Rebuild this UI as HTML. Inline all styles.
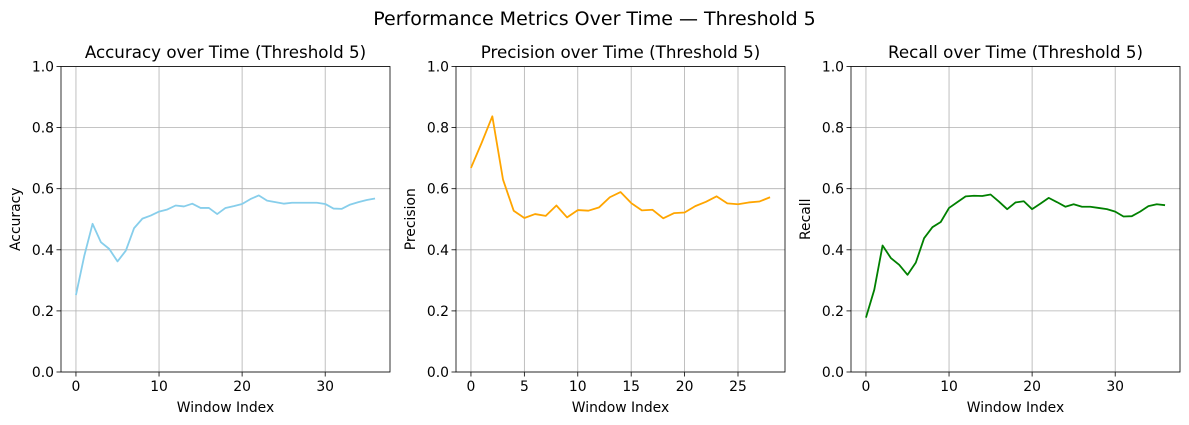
<!DOCTYPE html>
<html><head><meta charset="utf-8"><style>
body{margin:0;background:#fff;}
svg{display:block;font-family:"DejaVu Sans","Liberation Sans",sans-serif;}
</style></head><body>
<svg id="fig" width="1189" height="425">
<text x="594.5" y="25" text-anchor="middle" font-size="19">Performance Metrics Over Time — Threshold 5</text>
</svg>
<script>
const accuracy=[0.252,0.38,0.485,0.425,0.403,0.362,0.397,0.471,0.502,0.512,0.525,0.532,0.545,0.542,0.551,0.537,0.537,0.517,0.537,0.543,0.55,0.566,0.578,0.561,0.556,0.551,0.554,0.554,0.554,0.554,0.55,0.535,0.534,0.548,0.556,0.563,0.568];
const precision=[0.668,0.75,0.837,0.63,0.528,0.504,0.517,0.511,0.545,0.506,0.530,0.528,0.539,0.572,0.589,0.553,0.529,0.531,0.503,0.520,0.522,0.543,0.557,0.575,0.552,0.549,0.555,0.558,0.572];
const recall=[0.178,0.269,0.414,0.373,0.351,0.318,0.358,0.438,0.474,0.491,0.537,0.556,0.575,0.577,0.576,0.581,0.558,0.533,0.555,0.559,0.533,0.551,0.570,0.556,0.541,0.549,0.541,0.541,0.537,0.533,0.525,0.509,0.510,0.525,0.543,0.549,0.546];
const yTicks=[0,0.2,0.4,0.6,0.8,1.0];
const yTickLabels=["0.0","0.2","0.4","0.6","0.8","1.0"];
const xTicksA=[0,10,20,30];
const xTicksP=[0,5,10,15,20,25];
const xTicksR=[0,10,20,30];
const titles=["Accuracy over Time (Threshold 5)","Precision over Time (Threshold 5)","Recall over Time (Threshold 5)"];
const ylabels=["Accuracy","Precision","Recall"];

const NS="http://www.w3.org/2000/svg";
const svg=document.getElementById('fig');
function mk(tag,attrs,parent){const e=document.createElementNS(NS,tag);for(const k in attrs)e.setAttribute(k,attrs[k]);(parent||svg).appendChild(e);return e;}
const panels=[
 {left:61,data:accuracy,ticks:xTicksA,color:"#87ceeb",key:"accuracy"},
 {left:456,data:precision,ticks:xTicksP,color:"#ffa500",key:"precision"},
 {left:851,data:recall,ticks:xTicksR,color:"#008000",key:"recall"}];
const W=329,axTop=66.5,axBottom=372;
panels.forEach((p,i)=>{
  const n=p.data.length-1, pad=n*0.05;
  const xs=v=>p.left+(v+pad)/(n+2*pad)*W;
  const ys=v=>axBottom-v*(axBottom-axTop);
  const g=mk('g',{});
  
  
  p.ticks.forEach(t=>{
    const l=mk('line',{x1:xs(t),x2:xs(t),y1:axTop,y2:axBottom,stroke:"#b0b0b0","stroke-width":0.8},g);
    
    
    mk('line',{x1:xs(t),x2:xs(t),y1:axBottom,y2:axBottom+4.5,stroke:"#000","stroke-width":0.8},g);
    const tx=mk('text',{x:xs(t),y:axBottom+19,"text-anchor":"middle","font-size":"13.9"},g);
    tx.textContent=t;
    
    
  });
  yTicks.forEach((t,j)=>{
    const l=mk('line',{x1:p.left,x2:p.left+W,y1:ys(t),y2:ys(t),stroke:"#b0b0b0","stroke-width":0.8},g);
    
    
    mk('line',{x1:p.left-4.5,x2:p.left,y1:ys(t),y2:ys(t),stroke:"#000","stroke-width":0.8},g);
    const tx=mk('text',{x:p.left-7,y:ys(t)+5,"text-anchor":"end","font-size":"13.9"},g);
    tx.textContent=yTickLabels[j];
    
    
  });
  const pts=p.data.map((v,k)=>xs(k).toFixed(2)+","+ys(v).toFixed(2)).join(" ");
  const line=mk('polyline',{points:pts,fill:"none",stroke:p.color,"stroke-width":1.8,"stroke-linejoin":"round"},g);
  
  
  const fr=mk('rect',{x:p.left,y:axTop,width:W,height:axBottom-axTop,fill:"none",stroke:"#000","stroke-width":0.8},g);
  
  
  const tt=mk('text',{x:p.left+W/2,y:58,"text-anchor":"middle","font-size":"16.7"},g);
  tt.textContent=titles[i];
  
  
  const xl=mk('text',{x:p.left+W/2,y:412,"text-anchor":"middle","font-size":"13.9"},g);
  xl.textContent="Window Index";
  
  
  const yl=mk('text',{x:0,y:0,"text-anchor":"middle","font-size":"13.9",transform:`translate(${p.left-41},${(axTop+axBottom)/2}) rotate(-90)`},g);
  yl.textContent=ylabels[i];
  
  
});
</script>
</body></html>
